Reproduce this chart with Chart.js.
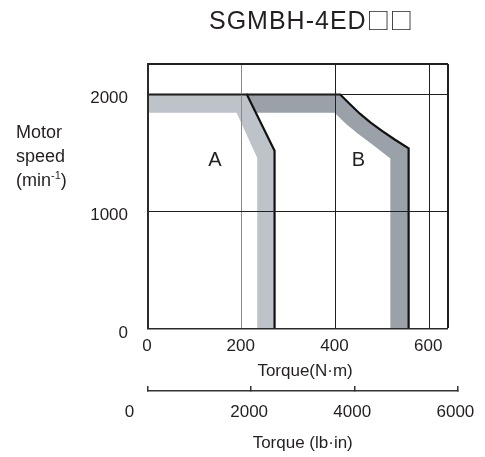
<!DOCTYPE html>
<html>
<head>
<meta charset="utf-8">
<script src="https://cdn.jsdelivr.net/npm/chart.js@4.4.1/dist/chart.umd.min.js"></script>
<style>
html,body{margin:0;padding:0;background:#fff;}
#wrap{position:relative;width:485px;height:457px;overflow:hidden;}
#c{position:absolute;left:0;top:0;}
#title{position:absolute;left:209px;top:7px;font-family:"Liberation Sans",Arial,sans-serif;font-size:25px;letter-spacing:1px;line-height:24px;color:#231f20;white-space:nowrap;}
#title .sq{font-family:"Noto Sans CJK JP",sans-serif;font-size:23px;letter-spacing:0;}
#ytitle{position:absolute;left:16px;top:120px;font-family:"Liberation Sans",Arial,sans-serif;font-size:18px;line-height:24px;color:#231f20;white-space:nowrap;}
#ytitle sup{font-size:11px;line-height:0;vertical-align:7px;}
</style>
</head>
<body>
<div id="wrap">
<canvas id="c" width="485" height="457"></canvas>
<div id="title">SGMBH-4ED<span class="sq">□□</span></div>
<div id="ytitle">Motor<br>speed<br>(min<sup>-1</sup>)</div>
</div>
<script>
// ---- data (torque N·m, speed min^-1) ----
const OUTER_A_X = [0, 211, 270, 270, 0];
const OUTER_A_Y = [2000, 2000, 1520, 0, 0];
const INNER_A_X = [0, 189, 233, 233];
const INNER_A_Y = [1845, 1845, 1458, 0];
const OUTER_B_X = [211, 410, 431, 452, 475, 500, 527, 556, 556];
const OUTER_B_Y = [2000, 2000, 1917, 1836, 1760, 1688, 1614, 1540, 0];
const INNER_B_X = [230, 398, 422, 448, 480, 517, 517];
const INNER_B_Y = [1845, 1845, 1750, 1665, 1570, 1455, 0];

const REGION_NAMES = ['A', 'B'];
const REGION_LABEL_X = [143, 449];
const REGION_LABEL_Y = [1440, 1440];

const X_TICKS = [0, 200, 400, 600];
const Y_TICKS = [0, 1000, 2000];
const LBIN_TICKS = [0, 2000, 4000, 6000];
const X_MAX = 640;
const Y_MAX = 2260;
const LBIN_PER_NM_ON_DRAWING = 9.09;

// ---- helpers ----
const pts = (xs, ys) => xs.map((x, i) => ({x: x, y: ys[i]}));
const rev = a => a.slice().reverse();
const bandA = pts(OUTER_A_X, OUTER_A_Y).concat(rev(pts(INNER_A_X, INNER_A_Y)));
const bandB = pts(OUTER_B_X, OUTER_B_Y).concat(rev(pts(INNER_B_X, INNER_B_Y)));

const FONT = '"Liberation Sans", Arial, sans-serif';
const INK = '#231f20';
Chart.defaults.font.family = FONT;
Chart.defaults.color = INK;

const regionLabels = {
  id: 'regionLabels',
  afterDatasetsDraw(chart) {
    const {ctx, scales: {x, y}} = chart;
    ctx.save();
    ctx.font = '20px ' + FONT;
    ctx.fillStyle = INK;
    ctx.textAlign = 'center';
    ctx.textBaseline = 'middle';
    REGION_NAMES.forEach((t, i) => {
      ctx.fillText(t, x.getPixelForValue(REGION_LABEL_X[i]), y.getPixelForValue(REGION_LABEL_Y[i]));
    });
    ctx.restore();
  }
};

const stretchLbin = {
  id: 'stretchLbin',
  afterLayout(chart) {
    const s = chart.scales.x2, x = chart.scales.x;
    s.right = x.getPixelForValue(LBIN_TICKS[LBIN_TICKS.length - 1] / LBIN_PER_NM_ON_DRAWING);
    s.width = s.right - s.left;
    s.configure();
  }
};

const line = (data, color, width, order, fill) => ({
  data: data,
  showLine: true,
  borderColor: color,
  backgroundColor: fill || 'transparent',
  borderWidth: width,
  pointRadius: 0,
  pointHoverRadius: 0,
  fill: fill ? 'shape' : false,
  tension: 0,
  order: order
});

new Chart(document.getElementById('c'), {
  type: 'scatter',
  data: {
    datasets: [
      line(pts(OUTER_A_X, OUTER_A_Y), '#111', 2.2, 0),
      line(pts(OUTER_B_X, OUTER_B_Y), '#111', 2.2, 0),
      line(bandA, 'rgba(0,0,0,0)', 0, 1, '#bec3c9'),
      line(bandB, 'rgba(0,0,0,0)', 0, 1, '#9aa1a8')
    ]
  },
  options: {
    responsive: false,
    animation: false,
    events: [],
    layout: {padding: {left: 0, top: 64, right: 37, bottom: 0}},
    plugins: {legend: {display: false}, tooltip: {enabled: false}},
    scales: {
      x: {
        type: 'linear', position: 'bottom', min: 0, max: X_MAX, weight: 0,
        afterBuildTicks: s => { s.ticks = X_TICKS.concat([X_MAX]).map(v => ({value: v})); },
        afterFit: s => { s.height = 62; },
        grid: {
          z: 1, drawTicks: false,
          color: c => (c.tick && c.tick.value === 200) ? '#8a8a8a' : INK,
          lineWidth: c => !c.tick ? 1 : (c.tick.value === 0 ? 0 : (c.tick.value === X_MAX ? 2 : 1))
        },
        border: {z: 1, color: '#2a2a2a', width: 1.6},
        ticks: {
          padding: 7, labelOffset: -1, maxRotation: 0, autoSkip: false,
          font: {size: 17},
          callback: v => X_TICKS.includes(v) ? String(v) : ''
        },
        title: {display: true, text: '   Torque(N·m)', font: {size: 17}, padding: {top: 0, bottom: 9}}
      },
      x2: {
        type: 'linear', axis: 'x', position: 'bottom', min: 0, max: LBIN_TICKS[LBIN_TICKS.length - 1], weight: 1,
        afterBuildTicks: s => { s.ticks = LBIN_TICKS.map(v => ({value: v})); },
        afterFit: s => { s.height = 66; },
        grid: {drawOnChartArea: false, drawTicks: true, tickLength: -5, color: '#333', lineWidth: 1.5},
        border: {color: '#333', width: 1.5},
        ticks: {
          padding: 16, labelOffset: -2, maxRotation: 0, autoSkip: false,
          font: {size: 17},
          callback: v => v === 0 ? '0       ' : String(v)
        },
        title: {display: true, text: 'Torque (lb·in)', font: {size: 17}, padding: {top: 0, bottom: 3}}
      },
      y: {
        type: 'linear', position: 'left', min: 0, max: Y_MAX,
        afterBuildTicks: s => { s.ticks = Y_TICKS.concat([Y_MAX]).map(v => ({value: v})); },
        afterFit: s => { s.width = 148; },
        grid: {
          z: 1, drawTicks: false, color: INK,
          lineWidth: c => !c.tick ? 1 : (c.tick.value === 0 ? 0 : (c.tick.value === Y_MAX ? 2 : 1))
        },
        border: {z: 1, color: '#2a2a2a', width: 2},
        ticks: {
          padding: 20, labelOffset: 4, font: {size: 17},
          callback: v => Y_TICKS.includes(v) ? String(v) : ''
        }
      }
    }
  },
  plugins: [regionLabels, stretchLbin]
});
</script>
</body>
</html>
